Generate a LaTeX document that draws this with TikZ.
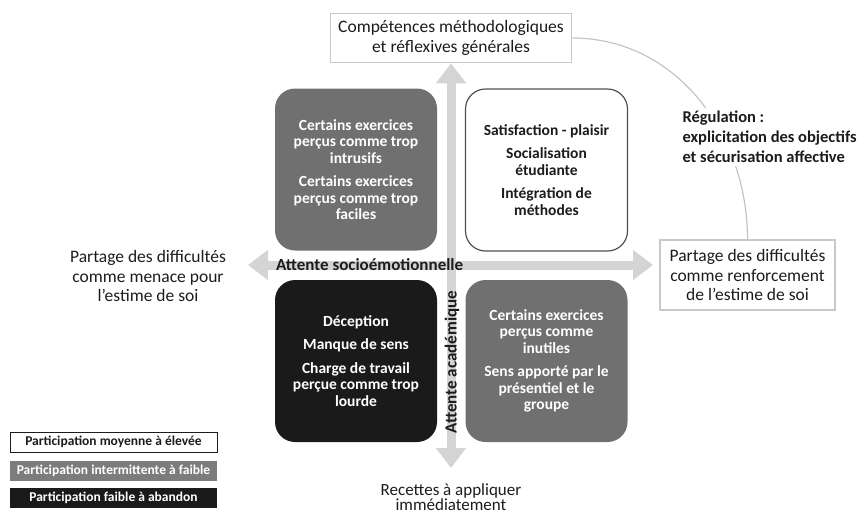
\documentclass[tikz,border=0pt]{standalone}
\usepackage{fontspec}
\setmainfont{Carlito}
\usetikzlibrary{arrows.meta}

\definecolor{ink}{RGB}{28,28,28}
\definecolor{midgray}{RGB}{112,112,112}
\definecolor{darkbox}{RGB}{26,26,26}
\definecolor{leggray}{RGB}{124,124,124}
\definecolor{arrowgray}{RGB}{212,212,212}
\definecolor{framegray}{RGB}{200,200,200}
\definecolor{curvegray}{RGB}{196,196,196}
\definecolor{whiteframe}{RGB}{80,80,80}

\tikzset{
  bigtext/.style={font=\fontsize{17.5}{19.5}\selectfont, text=ink, align=center},
  framebox/.style={bigtext, draw=framegray, line width=1.5pt, fill=white},
  quad/.style={rounded corners=20pt, minimum width=162pt, minimum height=162pt,
    align=center, font=\bfseries\fontsize{15.5}{16.5}\selectfont},
  quadgray/.style={quad, fill=midgray, text=white},
  quaddark/.style={quad, fill=darkbox, text=white},
  quadwhite/.style={quad, fill=white, draw=whiteframe, line width=1.2pt, text=ink},
  bigarrow/.style={draw=arrowgray, line width=9pt,
    {Triangle[width=29pt,length=20pt]}-{Triangle[width=29pt,length=20pt]}},
  axislabel/.style={font=\bfseries\fontsize{17}{19.5}\selectfont, text=ink},
  legbox/.style={minimum width=207pt, minimum height=20pt, inner sep=0pt,
    font=\bfseries\fontsize{13.5}{14}\selectfont}
}

\begin{document}
\begin{tikzpicture}[x=1pt,y=-1pt]
  \useasboundingbox (0,0) rectangle (864,515);

  % Poles of the two axes
  \node[framebox, minimum width=241pt, minimum height=49pt] (top) at (451,38)
    {Compétences méthodologiques\\et réflexives générales};
  \node[framebox, minimum width=175pt, minimum height=70pt] (renf) at (747.5,275)
    {Partage des difficultés\\comme renforcement\\de l’estime de soi};
  \node[bigtext] (menace) at (148,276)
    {Partage des difficultés\\comme menace pour\\l’estime de soi};
  \node[bigtext, font=\fontsize{17}{15.5}\selectfont, anchor=north, inner sep=0pt]
    (rec) at (451,483) {Recettes à appliquer\\immédiatement};

  % Axes
  \coordinate (hl) at (248,265);
  \coordinate (hr) at (653,265);
  \draw[bigarrow] (hl) -- (hr);
  \draw[bigarrow] (top.south) -- ([yshift=15pt]rec.north);

  % Regulation curve
  \draw[curvegray, line width=1.2pt] (top.east) to[out=0,in=90] (renf.north);
  \node[anchor=west, fill=white, align=left, text=ink,
    font=\bfseries\fontsize{16.5}{20}\selectfont] (reg) at (679,137)
    {Régulation :\\explicitation des objectifs\\et sécurisation affective};

  % Quadrants
  \node[quadgray] (ul) at (356,169.5)
    {Certains exercices\\perçus comme trop\\intrusifs\\[7pt]
     Certains exercices\\perçus comme trop\\faciles};
  \node[quadwhite] (ur) at (546.5,170)
    {Satisfaction - plaisir\\[7pt]Socialisation\\étudiante\\[7pt]
     Intégration de\\méthodes};
  \node[quaddark] (ll) at (356,361)
    {Déception\\[7pt]Manque de sens\\[7pt]Charge de travail\\perçue comme trop\\lourde};
  \node[quadgray] (lr) at (546.5,361)
    {Certains exercices\\perçus comme\\inutiles\\[7pt]
     Sens apporté par le\\présentiel et le\\groupe};

  % Axis names
  \node[axislabel, anchor=west, inner sep=0pt] (socio) at (276,265)
    {Attente socioémotionnelle};
  \node[axislabel, rotate=90, inner sep=0pt] (acad) at (452,362)
    {Attente académique};

  % Legend
  \node[legbox, fill=white, draw=ink, line width=0.9pt, text=ink] (leg1) at (113.5,442)
    {Participation moyenne à élevée};
  \node[legbox, fill=leggray, text=white] (leg2) at (113.5,470.5)
    {Participation intermittente à faible};
  \node[legbox, fill=darkbox, text=white] (leg3) at (113.5,498)
    {Participation faible à abandon};
\end{tikzpicture}
\end{document}
